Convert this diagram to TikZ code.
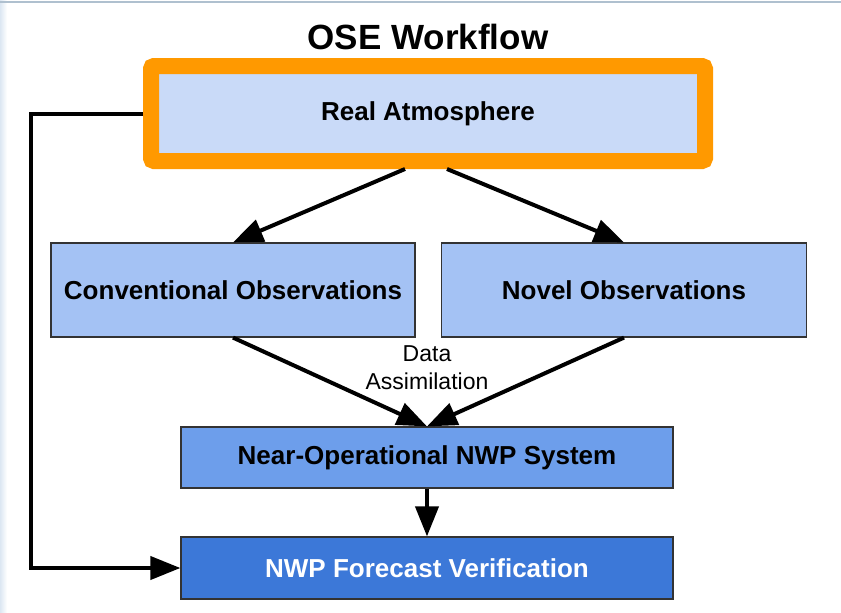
\documentclass[tikz,border=0pt]{standalone}
\usepackage{fontspec}
\setmainfont{Liberation Sans}
\usetikzlibrary{arrows.meta}
\definecolor{orangeb}{HTML}{FF9900}
\definecolor{blue3}{HTML}{C9DAF8}
\definecolor{blue2}{HTML}{A4C2F4}
\definecolor{blue1}{HTML}{6D9EEB}
\definecolor{blue0}{HTML}{3C78D8}
\definecolor{edgeblue}{HTML}{DCE7F2}
\definecolor{topline}{HTML}{AFC0CF}
\tikzset{
  box/.style={draw=black!80, line width=1.2pt, inner sep=0pt, font=\bfseries\fontsize{26}{31}\selectfont},
  flow/.style={draw=black, line width=4pt, -{Triangle[length=30pt,width=23pt]}}
}
\begin{document}
\begin{tikzpicture}[x=1pt,y=-1pt]
\useasboundingbox (0,0) rectangle (841,613);
\fill[white] (0,0) rectangle (841,613);
\fill[left color=edgeblue, right color=white] (0,0) rectangle (7,613);
\draw[topline, line width=2pt] (0,2) -- (841,2);

\node[font=\bfseries\fontsize{35}{40}\selectfont] (title) at (428,37) {OSE Workflow};

\node[draw=orangeb, line width=16pt, rounded corners=3pt, fill=blue3, inner sep=0pt,
      minimum width=554pt, minimum height=95pt, font=\bfseries\fontsize{26}{31}\selectfont]
      (ra) at (428,113.5) {Real Atmosphere};

\node[box, fill=blue2, minimum width=364pt, minimum height=94pt] (conv) at (233,290) {Conventional Observations};
\node[box, fill=blue2, minimum width=365pt, minimum height=94pt] (novel) at (624,290) {Novel Observations};
\node[box, fill=blue1, minimum width=492pt, minimum height=61pt] (nwp) at (427,457.5) {Near-Operational NWP System};
\node[box, fill=blue0, text=white, minimum width=492pt, minimum height=62pt] (ver) at (427,568) {NWP Forecast Verification};

\node[align=center, font=\fontsize{23}{28}\selectfont] (da) at (427,368) {Data\\Assimilation};

\draw[flow] ([xshift=-23pt]ra.south) -- (conv.north);
\draw[flow] ([xshift=19pt]ra.south) -- (novel.north);
\draw[flow] (conv.south) -- (nwp.north);
\draw[flow] (novel.south) -- (nwp.north);
\draw[flow] (nwp.south) -- (ver.north);
\coordinate (fb) at (31,113.5);
\draw[flow, line join=miter] (ra.west) -- (fb) |- (ver.west);
\end{tikzpicture}
\end{document}
